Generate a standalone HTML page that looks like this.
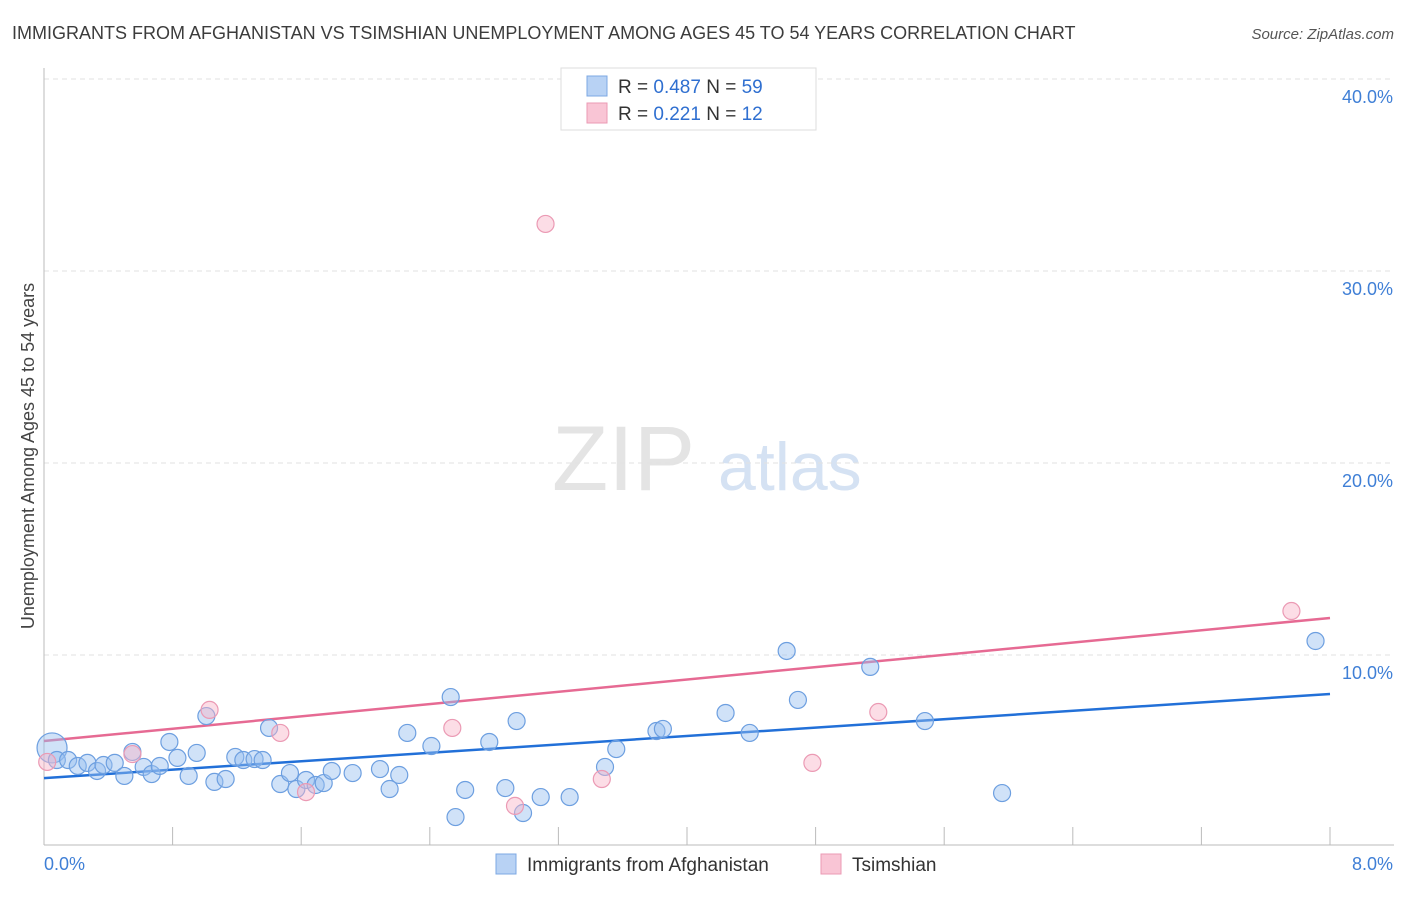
<!DOCTYPE html>
<html><head><meta charset="utf-8"><style>
body{margin:0;background:#fff;font-family:"Liberation Sans",sans-serif}
svg text{font-family:"Liberation Sans",sans-serif}
</style></head><body>
<svg id="chart" width="1406" height="892" viewBox="0 0 1406 892" xmlns="http://www.w3.org/2000/svg">
<text x="12" y="39" font-size="18" fill="#3c3c3c">IMMIGRANTS FROM AFGHANISTAN VS TSIMSHIAN UNEMPLOYMENT AMONG AGES 45 TO 54 YEARS CORRELATION CHART</text>
<text x="1394" y="39" font-size="15" fill="#555" font-style="italic" text-anchor="end">Source: ZipAtlas.com</text>
<text x="552" y="490" font-size="92" fill="#e4e4e4" font-family="Liberation Serif">ZIP</text>
<text x="718" y="490" font-size="68" fill="#d5e2f3">atlas</text>
<g id="grid"></g>
<g id="axes"></g>
<g id="lines"></g>
<g id="pts"></g>
<text transform="translate(34,456) rotate(-90)" font-size="18" fill="#444" text-anchor="middle">Unemployment Among Ages 45 to 54 years</text>
<g>
<rect x="561" y="68" width="255" height="62" fill="#fff" stroke="#ddd"/>
<rect x="587" y="76" width="20" height="20" fill="#b8d2f4" stroke="#7da8e3"/>
<text x="618" y="93" font-size="19" fill="#333">R = <tspan fill="#2f6fd0">0.487</tspan>   N = <tspan fill="#2f6fd0">59</tspan></text>
<rect x="587" y="103" width="20" height="20" fill="#f9c5d5" stroke="#eb9ab4"/>
<text x="618" y="120" font-size="19" fill="#333">R =  <tspan fill="#2f6fd0">0.221</tspan>   N =  <tspan fill="#2f6fd0">12</tspan></text>
</g>
<g>
<rect x="496" y="854" width="20" height="20" fill="#b8d2f4" stroke="#7da8e3"/>
<text x="527" y="871" font-size="19" fill="#333">Immigrants from Afghanistan</text>
<rect x="821" y="854" width="20" height="20" fill="#f9c5d5" stroke="#eb9ab4"/>
<text x="852" y="871" font-size="19" fill="#333">Tsimshian</text>
</g>
</svg>
<script>
const blueX=[0.05,0.08,0.15,0.21,0.27,0.33,0.37,0.44,0.50,0.55,0.62,0.67,0.72,0.78,0.83,0.90,0.95,1.01,1.06,1.13,1.19,1.24,1.31,1.36,1.40,1.47,1.53,1.57,1.63,1.69,1.74,1.79,1.92,2.09,2.15,2.21,2.26,2.41,2.53,2.56,2.62,2.77,2.87,2.94,2.98,3.09,3.27,3.49,3.56,3.81,3.85,4.24,4.39,4.62,4.69,5.14,5.48,5.96,7.91];
const blueY=[5.16,4.53,4.53,4.22,4.38,3.96,4.27,4.38,3.70,4.95,4.17,3.80,4.22,5.47,4.64,3.70,4.90,6.82,3.39,3.54,4.69,4.53,4.58,4.53,6.20,3.28,3.85,3.02,3.49,3.23,3.33,3.96,3.85,4.06,3.02,3.75,5.94,5.26,7.81,1.56,2.97,5.47,3.07,6.56,1.77,2.60,2.60,4.17,5.10,6.04,6.15,6.98,5.94,10.21,7.66,9.38,6.56,2.81,10.73];
const pinkX=[0.02,0.55,1.03,1.47,1.63,2.54,2.93,3.12,3.47,4.78,5.19,7.76];
const pinkY=[4.43,4.84,7.14,5.94,2.86,6.20,2.14,32.45,3.54,4.38,7.03,12.29];
const yTicks=[10,20,30,40];
const yTickLabels=["10.0%","20.0%","30.0%","40.0%"];
const xTickLabels=["0.0%","8.0%"];
const blueLine=[3.59,7.97];
const pinkLine=[5.52,11.93];
const NS="http://www.w3.org/2000/svg";
const sx=v=>44+v/8*1286;
const sy=v=>847-v*19.2;
function mk(tag,attrs,parent){const e=document.createElementNS(NS,tag);for(const k in attrs)e.setAttribute(k,attrs[k]);document.getElementById(parent).appendChild(e);return e;}
yTicks.forEach((t,i)=>{
  const g=mk('line',{x1:44,x2:1394,y1:sy(t),y2:sy(t),stroke:'#e2e2e2','stroke-dasharray':'5,4'},'grid');
  
  
  const l=mk('text',{x:1393,y:sy(t)+24,'font-size':18,fill:'#3f7fd6','text-anchor':'end'},'grid');
  l.textContent=yTickLabels[i];
  
  
});
const ax=mk('line',{x1:44,x2:44,y1:68,y2:845,stroke:'#bbb'},'axes');


const bx=mk('line',{x1:44,x2:1394,y1:845,y2:845,stroke:'#bbb'},'axes');


for(let i=1;i<=10;i++){
  const t=mk('line',{x1:sx(i*0.8),x2:sx(i*0.8),y1:827,y2:845,stroke:'#bbb'},'axes');
  
  
}
[0,8].forEach((v,i)=>{
  const l=mk('text',{x:i?1393:44,y:870,'font-size':18,fill:'#3f7fd6','text-anchor':i?'end':'start'},'axes');
  l.textContent=xTickLabels[i];
  
  
});
const bl=mk('line',{x1:sx(0),x2:sx(8),y1:sy(blueLine[0]),y2:sy(blueLine[1]),stroke:'#2270d8','stroke-width':2.5},'lines');


const pl=mk('line',{x1:sx(0),x2:sx(8),y1:sy(pinkLine[0]),y2:sy(pinkLine[1]),stroke:'#e66a93','stroke-width':2.5},'lines');


blueX.forEach((x,i)=>{
  const c=mk('circle',{cx:sx(x),cy:sy(blueY[i]),r:i===0?15:8.5,fill:'rgba(150,190,240,0.45)',stroke:'#6d9fe0','stroke-width':1.2},'pts');
  
  
});
pinkX.forEach((x,i)=>{
  const c=mk('circle',{cx:sx(x),cy:sy(pinkY[i]),r:8.5,fill:'rgba(248,180,200,0.45)',stroke:'#eb9ab4','stroke-width':1.2},'pts');
  
  
});
</script>
</body></html>
